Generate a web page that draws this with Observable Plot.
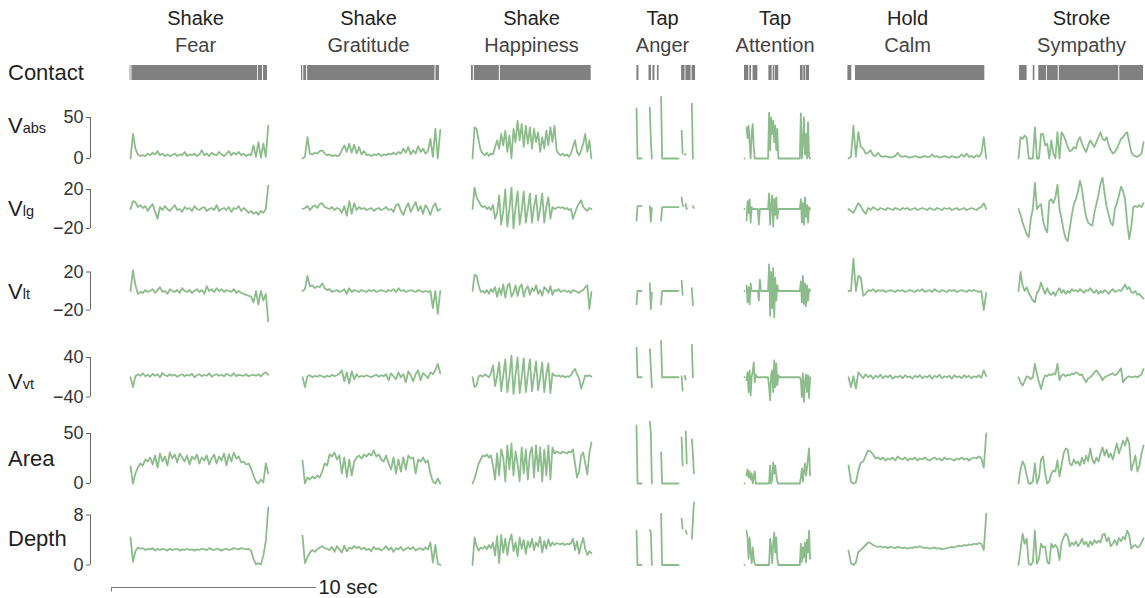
<!DOCTYPE html>
<html><head><meta charset="utf-8">
<script src="https://cdn.jsdelivr.net/npm/d3@7"></script>
<script src="https://cdn.jsdelivr.net/npm/@observablehq/plot@0.6"></script>
<style>
body{margin:0;background:#fff;}
#chart{position:relative;width:1145px;height:598px;font-family:"Liberation Sans",Arial,sans-serif;color:#222;overflow:hidden;}
.lab{position:absolute;left:8px;font-size:22px;line-height:22px;white-space:nowrap;color:#222;}
.lab span{font-size:14.5px;}
</style></head><body><div id="chart"></div>
<script>
const _ = null;
const gestures = ["Shake","Shake","Shake","Tap","Tap","Hold","Stroke"];
const emotions = ["Fear","Gratitude","Happiness","Anger","Attention","Calm","Sympathy"];
// recording start of each gesture on the shared time axis (seconds) and sample interval
const startSec = [0.927, 9.317, 17.61, 25.61, 30.878, 35.951, 44.244];
const stepSec = [0.12, 0.12, 0.1, 0.05, 0.05, 0.12, 0.1];
const labelSec = [4.10, 12.54, 20.49, 26.88, 32.37, 38.83, 47.32];
const scaleBarSec = [0, 10];
const axisSec = -1.0244;

// contact intervals, seconds from gesture start
const contact = [
  [[-0.02,0.02],[0.07,6.2],[6.24,6.44],[6.49,6.68]],
  [[-0.05,0.01],[0.06,0.2],[0.25,6.46],[6.51,6.68]],
  [[-0.05,0.04],[0.09,1.31],[1.36,5.79]],
  [[0.02,0.12],[0.61,0.73],[0.8,0.9],[1.02,1.1],[2.2,2.37],[2.41,2.66],[2.71,2.88]],
  [[0,0.21],[0.26,0.34],[0.42,0.65],[1.19,1.35],[1.4,1.48],[1.51,1.67],[2.73,2.86],[2.89,2.99],[3.02,3.17]],
  [[-0.03,0.16],[0.34,6.65]],
  [[0.05,0.42],[0.72,0.8],[0.99,1.37],[1.41,1.94],[1.99,4.89],[4.94,6.1]]
];

const vabs = [
  [0,30,12,5,3,4,3,6,4,7,5,9,4,6,3,5,3,4,6,3,5,4,8,3,5,4,6,3,5,10,4,6,3,7,5,4,8,5,3,6,9,4,7,5,8,4,6,3,5,4,16,2,20,1,18,2,40],
  [0,2,26,6,5,7,6,9,10,6,4,5,3,4,3,4,10,16,8,18,7,17,6,14,5,9,4,5,3,5,4,6,3,5,4,6,5,7,5,8,6,12,7,14,5,10,6,15,8,12,6,9,24,2,36,0,35],
  [0,38,36,22,10,6,4,7,3,6,5,14,22,12,30,16,34,8,28,0,36,20,46,22,42,14,40,18,38,12,36,20,32,8,26,12,34,16,38,20,40,10,6,4,6,3,5,2,6,14,22,8,4,10,18,30,8,22,0],
  [61,0,0,0,0,0,_,_,_,_,_,_,_,62,22,0,_,_,_,_,_,_,_,_,75,0,0,0,0,0,0,0,0,0,0,0,0,0,0,0,0,0,_,_,34,6,_,5,5,_,_,_,_,_,67,0,_,_,_],
  [0,_,38,25,40,20,0,30,42,15,0,0,0,0,0,0,0,0,0,0,0,0,0,0,56,10,50,30,46,20,40,10,36,0,0,0,0,0,0,0,0,0,0,0,0,0,0,0,0,0,0,0,0,0,0,55,0,20,50,5,30,0,44,2,0],
  [0,2,40,2,32,14,12,6,7,10,4,3,7,3,2,3,2,1,2,3,7,3,2,3,2,1,2,3,2,1,2,3,2,2,5,2,3,1,2,3,2,1,3,2,1,2,5,2,6,2,3,1,4,2,6,26,0],
  [0,26,24,28,25,0,0,0,38,0,0,30,30,16,18,0,22,6,0,32,0,32,28,22,14,9,10,14,12,22,26,18,12,8,16,22,18,14,20,26,32,24,22,26,16,10,6,8,12,18,24,26,30,32,20,8,4,3,2,4,6,20]
];
const vlg = [
  [0,8,7,2,4,1,3,-2,2,5,-3,-10,2,-1,3,0,-2,1,4,-1,0,-3,2,0,1,-2,3,0,-1,1,2,-2,0,1,-1,4,-2,0,1,-1,2,-3,1,0,3,-2,1,-1,-4,-2,-5,-3,-6,-2,-4,0,24],
  [0,1,3,-1,2,4,1,5,6,2,1,0,2,-1,1,0,-4,3,-7,8,-5,6,-1,2,0,1,-1,0,1,-2,0,1,-1,0,2,-1,0,-3,4,5,-2,-6,1,6,-3,2,7,-2,3,-5,4,0,-6,2,6,-2,0],
  [0,22,12,8,4,2,3,0,2,-1,4,-10,-4,14,-16,-2,20,-18,0,22,-20,2,18,-16,-2,18,-14,0,16,-14,2,14,-12,0,16,-14,2,12,-10,2,0,1,2,1,2,0,1,-1,0,-10,-4,2,6,9,2,0,-2,1,0],
  [-12,3,3,3,3,3,_,_,_,_,_,_,_,3,-13,1,_,_,_,_,_,_,_,_,-12,2,2,2,2,2,2,2,2,2,2,2,2,2,2,2,2,2,_,_,12,4,3,_,5,0,_,_,_,_,_,3,1,_,_],
  [0,_,-12,8,-4,10,-14,2,0,0,0,0,0,0,-16,0,0,0,0,0,0,0,0,0,16,-16,4,14,-18,10,-6,12,-10,0,0,0,0,0,0,0,0,0,0,0,0,0,0,0,0,0,0,0,0,0,0,10,-14,6,-16,12,-8,4,-14,2,0],
  [0,-2,-4,1,6,3,-2,-5,1,-1,2,0,-1,1,0,-1,1,0,-1,1,0,-1,1,0,1,-1,0,1,-1,0,1,0,-1,1,0,-1,1,0,-1,1,0,1,-1,0,1,-1,0,1,-1,0,1,0,-1,1,2,6,0],
  [0,-6,-14,-20,-26,-29,-10,0,27,0,3,5,-12,-20,-24,8,10,6,12,25,0,-10,-22,-30,-33,-20,-6,5,10,18,29,20,4,-8,-14,-16,-17,-4,5,14,26,32,16,2,-6,-14,-17,0,6,14,23,18,10,-14,-31,-18,2,3,2,4,2,6]
];
const vlt = [
  [0,22,6,-3,-1,-2,1,-1,0,2,-2,1,4,-1,0,-3,2,0,-1,1,-2,3,0,-1,1,-2,0,2,-1,1,-3,5,0,2,-1,3,0,2,-1,1,0,-1,2,-2,0,-2,-3,-4,-5,-6,-12,0,-14,0,-10,-3,-32],
  [0,2,16,5,6,3,5,4,8,3,1,2,-1,0,1,-1,0,2,-3,3,-1,1,0,-1,1,0,-1,1,0,1,-1,0,1,0,-1,1,0,2,-1,3,0,1,-1,0,1,0,-1,1,0,-1,0,-1,0,-18,0,-24,0],
  [0,17,16,6,-1,0,-2,1,-3,2,-1,4,-6,3,-4,7,-7,5,8,-6,-2,6,-5,4,7,-6,2,5,-4,3,0,6,-3,1,-5,4,2,-2,5,-4,1,0,2,-1,0,1,-1,0,-2,1,0,-1,-2,0,1,4,6,-19,-1],
  [-14,0,0,0,0,0,_,_,_,_,_,_,_,8,-19,-2,_,_,_,_,_,_,_,_,-14,0,0,0,0,0,0,0,0,0,0,0,0,0,0,0,0,0,_,_,11,-4,_,_,_,_,_,_,_,_,3,-15,_,_,_],
  [0,_,6,-12,4,-14,8,0,0,0,0,0,0,0,-10,12,0,0,0,0,0,0,0,0,28,-26,20,-18,24,-28,14,-10,6,0,0,0,0,0,0,0,0,0,0,0,0,0,0,0,0,0,0,0,0,0,0,10,-12,16,-14,8,-16,6,-10,2,0],
  [0,0,34,0,16,14,-5,-3,1,0,2,-1,1,0,1,-1,0,1,0,-1,1,0,1,-1,0,1,0,-1,1,0,2,-1,0,1,-1,2,0,-1,1,0,-1,1,0,1,-1,0,1,0,-1,1,0,1,0,-1,0,-20,-2],
  [0,20,6,0,4,-2,-6,-10,-12,-2,1,9,2,-3,3,-2,-4,-1,-5,0,3,-2,1,-3,0,-2,2,0,1,-1,2,0,-2,1,0,3,0,-2,1,-3,0,-2,1,-1,-3,0,2,-1,0,1,0,3,7,2,4,-1,-2,0,-4,-3,-6,-8]
];
const vvt = [
  [0,-20,2,6,3,8,2,5,1,7,3,6,0,9,4,2,6,3,5,1,4,6,2,5,3,7,0,4,6,2,5,3,8,1,4,6,3,5,2,7,4,3,8,2,5,4,3,6,2,4,5,3,6,2,7,10,5],
  [0,-20,2,4,0,3,1,4,2,0,3,1,5,2,4,7,14,-8,10,-13,12,-4,6,0,3,1,4,2,0,3,5,1,4,2,6,-6,8,2,-4,10,0,6,-10,12,4,-8,6,14,-6,8,4,-2,10,6,14,27,8],
  [0,-20,-16,2,4,1,6,3,0,8,24,-18,2,30,-28,4,36,-30,0,44,-34,6,40,-32,0,38,-30,4,36,-28,2,32,-26,0,30,-30,6,28,-32,8,4,2,4,1,3,0,2,1,4,12,17,6,-2,-23,-10,4,2,4,1],
  [60,0,0,0,0,0,_,_,_,_,_,_,_,57,20,-20,_,_,_,_,_,_,_,_,74,0,0,0,0,0,0,0,0,0,0,0,0,0,0,0,0,0,_,_,2,-27,_,3,-5,_,_,_,_,_,66,0,_,_,_],
  [0,_,-6,10,-30,14,-37,2,10,30,-10,6,0,0,0,0,0,0,0,0,0,0,0,0,-20,-47,6,14,-30,34,-20,28,-16,4,0,0,0,0,0,0,0,0,0,0,0,0,0,0,0,0,0,0,0,0,0,-6,-40,8,-50,-10,6,-30,4,-42,0],
  [0,-20,2,-23,10,4,-2,6,0,4,-3,3,0,5,-2,3,0,4,-3,2,0,3,-2,4,0,2,-3,3,0,4,-2,2,0,4,-3,3,0,5,-2,2,0,3,-3,4,0,2,-2,4,0,3,-2,2,0,4,-1,14,2],
  [0,-10,-17,-8,2,0,-4,0,27,6,-10,-24,-6,4,2,6,4,8,6,27,-6,4,6,2,5,4,8,6,10,8,4,6,-4,-10,-2,0,4,10,14,8,2,-6,0,2,4,6,8,4,6,12,18,-10,-4,0,2,0,1,2,0,3,6,17]
];
const area = [
  [17,0,10,16,20,18,24,22,26,19,28,16,30,22,27,18,31,25,29,21,30,26,22,28,19,27,24,29,20,26,23,28,19,25,29,20,27,23,30,18,29,22,31,25,27,21,22,19,20,15,8,2,0,4,1,20,10],
  [23,0,6,4,7,5,8,6,12,20,18,29,27,31,24,28,10,26,6,24,8,22,26,28,25,29,27,30,28,33,27,29,24,22,28,20,14,26,10,24,12,26,14,28,25,26,10,24,22,26,21,23,10,2,0,5,0],
  [0,5,12,20,24,28,27,29,26,28,18,4,30,8,34,26,2,38,14,40,8,32,20,2,36,10,34,4,30,36,6,38,12,36,2,34,8,38,4,36,30,32,31,30,32,31,30,32,31,34,20,6,12,28,31,20,9,30,41],
  [58,0,0,0,0,0,_,_,_,_,_,_,_,62,50,0,_,_,_,_,_,_,_,_,31,0,0,0,0,0,0,0,0,0,0,0,0,0,0,0,0,0,_,_,46,18,_,_,52,20,_,_,_,_,44,30,10,_,_],
  [0,_,8,14,6,12,4,10,0,6,12,0,0,0,0,0,0,0,0,0,0,0,0,0,0,18,0,4,21,10,18,8,2,0,0,0,0,0,0,0,0,0,0,0,0,0,0,0,0,0,0,0,0,0,0,6,15,2,12,20,8,16,26,35,8],
  [18,2,0,1,13,21,22,28,33,32,29,25,26,24,26,23,25,24,26,23,27,25,24,26,23,25,24,26,23,25,24,26,24,23,25,26,24,25,23,26,24,25,24,23,25,24,26,24,25,23,25,26,25,27,25,16,50],
  [0,14,22,18,8,0,0,2,20,0,6,24,27,10,0,2,10,13,12,23,7,18,30,35,34,20,18,24,20,22,18,26,20,28,22,35,24,20,26,22,30,36,28,34,26,30,24,32,40,30,36,43,38,46,40,13,20,28,12,18,30,38]
];
const depth = [
  [4.4,0.5,2.2,2.8,2.6,2.7,2.4,2.6,2.5,2.7,2.3,2.6,2.4,2.6,2.5,2.3,2.6,2.4,2.5,2.6,2.3,2.5,2.4,2.6,2.4,2.5,2.3,2.5,2.4,2.6,2.5,2.4,2.7,2.5,2.4,2.6,2.5,2.3,2.5,2.6,2.4,2.5,2.7,2.6,2.5,2.7,2.6,2.5,2.6,2.3,1.0,0.1,0.3,0.1,1.5,3.8,9.2],
  [4.7,0.3,1.2,2.0,2.4,2.1,2.5,2.8,3.0,2.7,2.6,2.4,2.9,2.1,3.0,2.5,2.0,3.1,2.2,2.8,2.6,3.0,2.7,2.9,2.5,2.8,2.4,2.6,2.2,2.9,2.5,2.7,2.3,2.6,3.0,2.4,2.8,2.1,2.7,2.5,2.9,2.3,2.6,2.8,2.5,2.9,2.3,2.6,2.7,2.4,2.8,2.5,3.6,0.4,3.2,0.2,0],
  [0,4.4,3.0,2.3,2.8,2.6,3.0,2.5,3.2,2.7,3.6,1.5,4.6,0.3,4.8,2.0,4.2,1.6,3.8,4.9,2.2,3.6,1.4,4.4,2.6,4.0,1.8,3.8,2.8,4.2,2.4,3.6,3.0,4.5,2.0,3.8,2.6,4.1,3.0,3.6,3.2,3.5,3.4,3.3,3.5,3.2,3.4,3.3,3.5,4.2,2.4,3.8,1.8,3.2,4.3,2.6,1.6,2.2,1.9],
  [5.5,0,0,0,0,0,_,_,_,_,_,_,_,5.6,5.2,0,_,_,_,_,_,_,_,_,8.2,0,0,0,0,0,0,0,0,0,0,0,0,0,0,0,0,0,_,_,7.4,5.8,_,_,5.5,5.0,_,_,_,_,4.2,7,10,_,_],
  [0,_,5.5,4.2,1.0,4.4,2.0,0.3,2.8,1.0,0.2,0,0,0,0,0,0,0,0,0,0,0,0,0,0,4.2,3.0,0.3,3.5,5.2,2.0,4.4,1.0,0,0,0,0,0,0,0,0,0,0,0,0,0,0,0,0,0,0,0,0,0,0,3.4,0.5,2.8,1.2,3.6,0.4,4.0,2.0,5.5,1.0],
  [2.3,0.3,0,0.4,2.1,2.4,2.8,3.2,3.6,3.5,3.2,3.0,2.9,3.0,2.8,2.9,2.7,2.9,2.8,2.7,2.9,2.8,2.7,2.8,2.6,2.8,2.7,2.9,2.8,3.0,2.8,2.7,2.8,2.6,2.7,2.8,2.6,2.7,2.5,2.6,2.7,2.8,2.9,2.8,3.0,3.1,3.0,3.2,3.1,3.3,3.2,3.4,3.3,3.5,3.4,2.4,8.2],
  [0,2.5,5.0,3.4,4.2,0.2,0,0.5,5.5,0.2,1.0,3.4,2.8,3.0,0.5,0.2,3.4,2.8,3.2,2.7,0.8,3.5,4.4,5.0,4.6,3.0,3.6,3.2,3.8,3.0,3.5,4.2,3.3,3.7,2.9,3.8,3.2,4.0,3.5,3.9,3.6,4.8,5.0,3.8,4.4,3.0,3.4,4.0,3.2,4.3,3.8,4.5,4.1,5.5,4.8,2.6,3.0,3.2,2.8,3.0,3.6,4.3]
];

const rowLabels = [
  {main: "Contact", sub: "", base: 81},
  {main: "V", sub: "abs", base: 134},
  {main: "V", sub: "lg", base: 216.7},
  {main: "V", sub: "lt", base: 300},
  {main: "V", sub: "vt", base: 390},
  {main: "Area", sub: "", base: 466.7},
  {main: "Depth", sub: "", base: 546.7}
];

const rows = [
  {values: vabs,  ticks: [0, 50],   top: 88,  height: 80, mt: 29,   mb: 10},
  {values: vlg,   ticks: [-20, 20], top: 168, height: 80, mt: 21,   mb: 20},
  {values: vlt,   ticks: [-20, 20], top: 248, height: 80, mt: 23.5, mb: 18.5},
  {values: vvt,   ticks: [-40, 40], top: 328, height: 80, mt: 29,   mb: 11.5},
  {values: area,  ticks: [0, 50],   top: 408, height: 90, mt: 25,   mb: 15},
  {values: depth, ticks: [0, 8],    top: 498, height: 75, mt: 16.5, mb: 8.5}
];

const chart = document.getElementById("chart");
const FONT = '"Liberation Sans", Arial, sans-serif';
const GREEN = "#8cbc8c";
const xScale = {domain: scaleBarSec, range: [111, 316], axis: null};

function place(svg, top) {
  svg.style.position = "absolute";
  svg.style.left = "0px";
  svg.style.top = top + "px";
  svg.style.overflow = "visible";
  svg.style.background = "transparent";
  svg.style.fontFamily = FONT;
  svg.style.maxWidth = "none";
  chart.appendChild(svg);
}

// contact row with titles
const contactData = [];
contact.forEach((segs, g) => segs.forEach(([s, e]) => contactData.push({g: emotions[g], s: startSec[g] + s, e: startSec[g] + e})));
place(Plot.plot({
  width: 1145, height: 88, marginTop: 65, marginBottom: 8, marginLeft: 90, marginRight: 0,
  x: xScale,
  marks: [
    Plot.rect(contactData, {x1: "s", x2: "e", fill: "#808080", inset: 0}),
    Plot.text(gestures, {x: labelSec, text: Plot.identity, frameAnchor: "top", lineAnchor: "middle", dy: -47, fontSize: 20, fill: "#222"}),
    Plot.text(emotions, {x: labelSec, text: Plot.identity, frameAnchor: "top", lineAnchor: "middle", dy: -20, fontSize: 20, fill: "#444"})
  ]
}), 0);

// signal rows
rows.forEach(r => {
  const data = [];
  r.values.forEach((arr, g) => arr.forEach((v, i) => data.push({g: emotions[g], t: startSec[g] + i * stepSec[g], v})));
  place(Plot.plot({
    width: 1145, height: r.height, marginTop: r.mt, marginBottom: r.mb, marginLeft: 90, marginRight: 0,
    x: xScale,
    y: {domain: r.ticks, label: null},
    marks: [
      Plot.ruleX([axisSec], {y1: r.ticks[0], y2: r.ticks[1], stroke: "#666", strokeWidth: 1}),
      Plot.axisY({ticks: r.ticks, tickSize: 4, tickPadding: 3, fontSize: 18, fill: "#333", stroke: "#666", label: null}),
      Plot.line(data, {x: "t", y: "v", z: "g", stroke: GREEN, strokeWidth: 1.8, strokeLinejoin: "round"})
    ]
  }), r.top);
});

// scale bar
place(Plot.plot({
  width: 1145, height: 25, marginTop: 14, marginBottom: 6.5, marginLeft: 90, marginRight: 0,
  x: xScale,
  y: {domain: [0, 1], axis: null},
  marks: [
    Plot.ruleY([1], {x1: scaleBarSec[0], x2: scaleBarSec[1], stroke: "#777"}),
    Plot.ruleX([scaleBarSec[0]], {y1: 0, y2: 1, stroke: "#777"}),
    Plot.text(["10 sec"], {x: scaleBarSec[1], y: 1, text: Plot.identity, textAnchor: "start", dx: 2, fontSize: 20, fill: "#222"})
  ]
}), 573);

// row labels
rowLabels.forEach(l => {
  const d = document.createElement("div");
  d.className = "lab";
  d.style.top = (l.base - 18.6) + "px";
  d.textContent = l.main;
  if (l.sub) {
    const s = document.createElement("span");
    s.textContent = l.sub;
    d.appendChild(s);
  }
  chart.appendChild(d);
});
</script></body></html>
